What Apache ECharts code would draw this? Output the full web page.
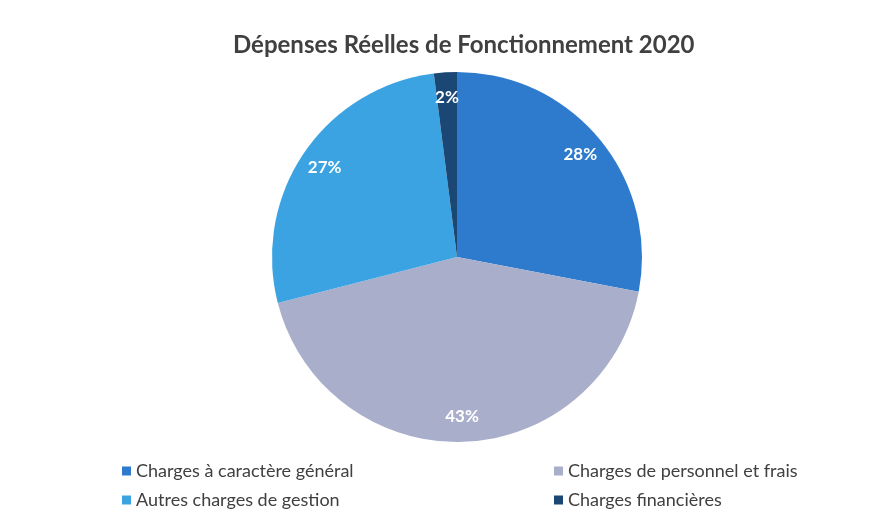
<!DOCTYPE html>
<html>
<head>
<meta charset="utf-8">
<script src="https://cdn.jsdelivr.net/npm/echarts@6/dist/echarts.min.js"></script>
<style>
html,body{margin:0;padding:0;background:#fff;}
#chart{width:895px;height:520px;}
</style>
</head>
<body>
<div id="chart"></div>
<script>
const titleText = 'Dépenses Réelles de Fonctionnement 2020';
const categories = ['Charges à caractère général', 'Charges de personnel et frais', 'Autres charges de gestion', 'Charges financières'];
const values = [28, 43, 27, 2];
const colors = ['#2E7BCE', '#A9AECA', '#3BA3E2', '#1B4775'];

const data = categories.map((n, i) => ({ name: n, value: values[i], itemStyle: { color: colors[i] } }));
const labelData = categories.map((n, i) => ({ name: n, value: values[i] }));

const chart = echarts.init(document.getElementById('chart'));
const FONT = 'Lato, "Open Sans", sans-serif';
chart.setOption({
  backgroundColor: '#fff',
  title: {
    text: titleText,
    left: 228,
    top: 28,
    textStyle: { fontFamily: FONT, fontSize: 24, fontWeight: 'bold', color: '#404040' }
  },
  legend: [
    {
      orient: 'vertical', left: 117, top: 457, itemGap: 11,
      itemWidth: 9, itemHeight: 9, icon: 'rect',
      data: [categories[0], categories[2]],
      textStyle: { fontFamily: FONT, fontSize: 18, color: '#404040' }
    },
    {
      orient: 'vertical', left: 549, top: 457, itemGap: 11,
      itemWidth: 9, itemHeight: 9, icon: 'rect',
      data: [categories[1], categories[3]],
      textStyle: { fontFamily: FONT, fontSize: 18, color: '#404040' }
    }
  ],
  series: [
    {
      type: 'pie',
      center: [457, 257],
      radius: [0, 185],
      startAngle: 90,
      clockwise: true,
      silent: true,
      label: { show: false },
      labelLine: { show: false },
      data: data
    },
    {
      type: 'pie',
      center: [457, 257],
      radius: [124, 190],
      startAngle: 90,
      clockwise: true,
      silent: true,
      legendHoverLink: false,
      itemStyle: { color: 'rgba(0,0,0,0)' },
      label: {
        show: true, position: 'inside',
        formatter: p => p.value + '%',
        color: '#fff', fontFamily: FONT, fontSize: 17, fontWeight: 'bold'
      },
      labelLine: { show: false },
      data: labelData
    }
  ]
});
</script>
</body>
</html>
